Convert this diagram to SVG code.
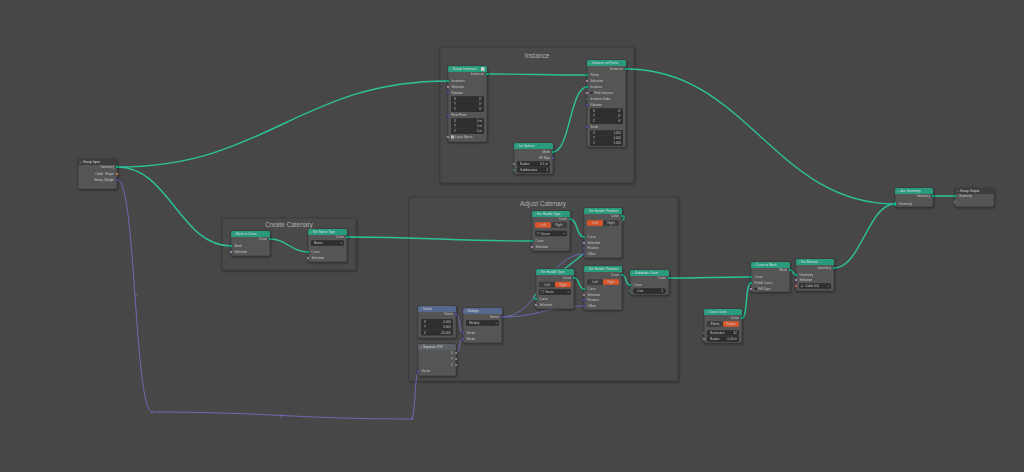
<svg xmlns="http://www.w3.org/2000/svg" width="1024" height="472" viewBox="0 0 1024 472">
<defs>
<filter id="sh" x="-20%" y="-20%" width="140%" height="140%"><feDropShadow dx="0.6" dy="0.9" stdDeviation="0.8" flood-color="#000" flood-opacity="0.45"/></filter>
<style>
.bg{fill:#474747}
.frame{fill:#4a4a4a;stroke:#3b3b3b;stroke-width:0.8}
.ft{font-family:"Liberation Sans",Arial,sans-serif;font-size:6.5px;fill:#aeaeae;text-anchor:middle}
.body{fill:#555555;stroke:#2c2c2c;stroke-width:0.5}
.hg{fill:#2a9a7c}.hv{fill:#56678d}.hc{fill:#5b5e66}.hi{fill:#3e3e3e}
.t{font-family:"Liberation Sans",Arial,sans-serif;font-size:3.1px;fill:#c4c4c4}
.ht{font-size:3.2px;fill:#dedede}
.r{text-anchor:end}.c{text-anchor:middle}
.box{fill:#2d2d2d}.sep{stroke:#454545;stroke-width:0.3}
.btn{fill:#3a3a3a}.on{fill:#d9542c}
.sk{stroke:#1e1e1e;stroke-width:0.4}
.geo{fill:#00d6a3}.vec{fill:#6363c7}.bool{fill:#cca6d6}.flt{fill:#a1a1a1}.int{fill:#598c5c}.obj{fill:#ed9e5c}.mat{fill:#eb7582}
.chev{fill:none;stroke:#d0d0d0;stroke-width:0.4}
.lk{fill:none;stroke-width:1.4;stroke-linecap:round}
.lg{stroke:#2cc39a}.lv{stroke:#6d6dbd;stroke-width:0.9}
</style>
</defs>
<rect class="bg" x="0" y="0" width="1024" height="472"/>

<g id="frames">
<g id="frame-instance"><rect class="frame" filter="url(#sh)" x="440" y="47" width="194" height="136" rx="1"/><text class="ft" x="537" y="58">Instance</text></g>
<g id="frame-create-catenary"><rect class="frame" filter="url(#sh)" x="222" y="218" width="134" height="52" rx="1"/><text class="ft" x="289" y="227">Create Catenary</text></g>
<g id="frame-adjust-catenary"><rect class="frame" filter="url(#sh)" x="409" y="197" width="269" height="184" rx="1"/><text class="ft" x="543" y="206">Adjust Catenary</text></g>
</g>

<g id="connectors">
<path class="lk lg" d="M118,167 C266,167 300,81 448,81"/>
<path class="lk lg" d="M118,167 C169,167 180,246 231,246"/>
<path class="lk lg" d="M487,74 C532,74 542,75 587,75"/>
<path class="lk lg" d="M553,152 C570,152 570,87 587,87"/>
<path class="lk lg" d="M626,69 C747,69 774,204 895,204"/>
<path class="lk lg" d="M270,239 C287,239 291,252 308,252"/>
<path class="lk lg" d="M347,237 C430,237 449,241 532,241"/>
<path class="lk lg" d="M570,219 C578,219 576,237 584,237"/>
<path class="lk lg" d="M622,216 C642,216 516,299 536,299"/>
<path class="lk lg" d="M574,278 C580,278 578,289 584,289"/>
<path class="lk lg" d="M622,275 C627,275 625,285 630,285"/>
<path class="lk lg" d="M669,278 C706,278 714,277 751,277"/>
<path class="lk lg" d="M742,318 C748,318 745,283 751,283"/>
<path class="lk lg" d="M790,270 C794,270 792,275 796,275"/>
<path class="lk lg" d="M834,268 C861,268 868,204 895,204"/>
<path class="lk lg" d="M933,196 L955,196"/>
<path class="lk lv" d="M456,314 C461,314 458,333 463,333"/>
<path class="lk lv" d="M456,353 C461,353 458,339 463,339"/>
<path class="lk lv" d="M502,317 C539,317 547,254 584,254"/>
<path class="lk lv" d="M502,317 C539,317 547,306 584,306"/>
<path class="lk lv" d="M118,180 C136,180 134,412 152,412"/>
<path class="lk lv" d="M152,412 C269,412 295,419 412,419"/>
<path class="lk lv" d="M412,419 C415,419 415,371 418,371"/>
<path class="lk lv" d="M134.6,295.2 L135.8,296.8 L137,295.2"/>
<path class="lk lv" d="M280.4,414.6 L281.9,415.9 L280.4,417.2"/>
<circle class="vec" cx="152" cy="412" r="1.1"/>
<circle class="vec" cx="412" cy="419" r="1.1"/>
</g>

<g id="node-group-input" filter="url(#sh)">
<rect class="body" x="78" y="159" width="39" height="30" rx="1.5"/>
<rect class="hi" x="78" y="159" width="39" height="6" rx="1.5"/><rect class="hi" x="78" y="162" width="39" height="3"/>
<path class="chev" d="M80,161.6 l1,1 l1,-1"/><text class="t ht" x="83" y="163.3">Group Input</text>
<text class="t r" x="114" y="168.1">Geometry</text><circle class="sk geo" cx="117" cy="167" r="1.3"/>
<text class="t r" x="114" y="175.1">Cable_Shape</text><circle class="sk obj" cx="117" cy="174" r="1.3"/>
<text class="t r" x="114" y="181.1">Vertex_Weight</text><circle class="sk vec" cx="117" cy="180" r="1.3"/>
</g>

<g id="node-rotate-instances" filter="url(#sh)">
<rect class="body" x="448" y="66" width="39" height="76" rx="1.5"/>
<rect class="hg" x="448" y="66" width="39" height="6" rx="1.5"/><rect class="hg" x="448" y="69" width="39" height="3"/>
<path class="chev" d="M450,68.6 l1,1 l1,-1"/><text class="t ht" x="453" y="70.3">Rotate Instances</text>
<rect x="481" y="67.2" width="3.6" height="3.6" rx="0.4" fill="#d0d0d0"/>
<text class="t r" x="484" y="75.1">Instances</text><circle class="sk geo" cx="487" cy="74" r="1.3"/>
<text class="t" x="451.5" y="82.1">Instances</text><circle class="sk geo" cx="448" cy="81" r="1.3"/>
<text class="t" x="451.5" y="88.1">Selection</text><circle class="sk bool" cx="448" cy="87" r="1.3"/>
<text class="t" x="451.5" y="94.1">Rotation</text><circle class="sk vec" cx="448" cy="93" r="1.3"/>
<rect class="box" x="451" y="96.3" width="33" height="15.6" rx="1.2"/>
<line class="sep" x1="451" y1="101.5" x2="484" y2="101.5"/><line class="sep" x1="451" y1="106.7" x2="484" y2="106.7"/>
<text class="t" x="454" y="100">X</text><text class="t r" x="482" y="100">0°</text>
<text class="t" x="454" y="105.2">Y</text><text class="t r" x="482" y="105.2">0°</text>
<text class="t" x="454" y="110.4">Z</text><text class="t r" x="482" y="110.4">0°</text>
<text class="t" x="451.5" y="116.1">Pivot Point</text><circle class="sk vec" cx="448" cy="115" r="1.3"/>
<rect class="box" x="451" y="118.3" width="33" height="15.6" rx="1.2"/>
<line class="sep" x1="451" y1="123.5" x2="484" y2="123.5"/><line class="sep" x1="451" y1="128.7" x2="484" y2="128.7"/>
<text class="t" x="454" y="122">X</text><text class="t r" x="482" y="122">0 m</text>
<text class="t" x="454" y="127.2">Y</text><text class="t r" x="482" y="127.2">0 m</text>
<text class="t" x="454" y="132.4">Z</text><text class="t r" x="482" y="132.4">0 m</text>
<circle class="sk bool" cx="448" cy="137" r="1.3"/>
<rect x="451" y="135.4" width="3.2" height="3.2" rx="0.4" fill="#d0d0d0"/><path d="M451.7,137 l0.8,0.8 l1.4,-1.6" fill="none" stroke="#303030" stroke-width="0.45"/>
<text class="t" x="455.5" y="138.1">Local Space</text>
</g>

<g id="node-instance-on-points" filter="url(#sh)">
<rect class="body" x="587" y="60" width="39" height="87" rx="1.5"/>
<rect class="hg" x="587" y="60" width="39" height="6" rx="1.5"/><rect class="hg" x="587" y="63" width="39" height="3"/>
<path class="chev" d="M589,62.6 l1,1 l1,-1"/><text class="t ht" x="592" y="64.3">Instance on Points</text>
<text class="t r" x="623" y="70.1">Instances</text><circle class="sk geo" cx="626" cy="69" r="1.3"/>
<text class="t" x="590.5" y="76.1">Points</text><circle class="sk geo" cx="587" cy="75" r="1.3"/>
<text class="t" x="590.5" y="82.1">Selection</text><circle class="sk bool" cx="587" cy="81" r="1.3"/>
<text class="t" x="590.5" y="88.1">Instance</text><circle class="sk geo" cx="587" cy="87" r="1.3"/>
<circle class="sk bool" cx="587" cy="93" r="1.3"/>
<rect x="590" y="91.4" width="3.2" height="3.2" rx="0.4" fill="#2d2d2d" stroke="#8a8a8a" stroke-width="0.3"/>
<text class="t" x="594.5" y="94.1">Pick Instance</text>
<text class="t" x="590.5" y="100.1">Instance Index</text><circle class="sk int" cx="587" cy="99" r="1.3"/>
<text class="t" x="590.5" y="106.1">Rotation</text><circle class="sk vec" cx="587" cy="105" r="1.3"/>
<rect class="box" x="590" y="108.3" width="33" height="15.6" rx="1.2"/>
<line class="sep" x1="590" y1="113.5" x2="623" y2="113.5"/><line class="sep" x1="590" y1="118.7" x2="623" y2="118.7"/>
<text class="t" x="593" y="112">X</text><text class="t r" x="621" y="112">0°</text>
<text class="t" x="593" y="117.2">Y</text><text class="t r" x="621" y="117.2">0°</text>
<text class="t" x="593" y="122.4">Z</text><text class="t r" x="621" y="122.4">0°</text>
<text class="t" x="590.5" y="128.1">Scale</text><circle class="sk vec" cx="587" cy="127" r="1.3"/>
<rect class="box" x="590" y="130.3" width="33" height="15.6" rx="1.2"/>
<line class="sep" x1="590" y1="135.5" x2="623" y2="135.5"/><line class="sep" x1="590" y1="140.7" x2="623" y2="140.7"/>
<text class="t" x="593" y="134">X</text><text class="t r" x="621" y="134">1.000</text>
<text class="t" x="593" y="139.2">Y</text><text class="t r" x="621" y="139.2">1.000</text>
<text class="t" x="593" y="144.4">Z</text><text class="t r" x="621" y="144.4">1.000</text>
</g>

<g id="node-ico-sphere" filter="url(#sh)">
<rect class="body" x="514" y="143" width="39" height="31" rx="1.5"/>
<rect class="hg" x="514" y="143" width="39" height="6" rx="1.5"/><rect class="hg" x="514" y="146" width="39" height="3"/>
<path class="chev" d="M516,145.6 l1,1 l1,-1"/><text class="t ht" x="519" y="147.3">Ico Sphere</text>
<text class="t r" x="550" y="153.1">Mesh</text><circle class="sk geo" cx="553" cy="152" r="1.3"/>
<text class="t r" x="550" y="159.1">UV Map</text><circle class="sk vec" cx="553" cy="158" r="1.3"/>
<rect class="box" x="517" y="161.3" width="33" height="5.4" rx="1.2"/>
<text class="t" x="520" y="165.1">Radius</text><text class="t r" x="548" y="165.1">0.1 m</text><circle class="sk flt" cx="514" cy="164" r="1.3"/>
<rect class="box" x="517" y="167.3" width="33" height="5.4" rx="1.2"/>
<text class="t" x="520" y="171.1">Subdivisions</text><text class="t r" x="548" y="171.1">1</text><circle class="sk int" cx="514" cy="170" r="1.3"/>
</g>

<g id="node-mesh-to-curve" filter="url(#sh)">
<rect class="body" x="231" y="231" width="39" height="25" rx="1.5"/>
<rect class="hg" x="231" y="231" width="39" height="6" rx="1.5"/><rect class="hg" x="231" y="234" width="39" height="3"/>
<path class="chev" d="M233,233.6 l1,1 l1,-1"/><text class="t ht" x="236" y="235.3">Mesh to Curve</text>
<text class="t r" x="267" y="240.1">Curve</text><circle class="sk geo" cx="270" cy="239" r="1.3"/>
<text class="t" x="234.5" y="247.1">Mesh</text><circle class="sk geo" cx="231" cy="246" r="1.3"/>
<text class="t" x="234.5" y="253.1">Selection</text><circle class="sk bool" cx="231" cy="252" r="1.3"/>
</g>

<g id="node-set-spline-type" filter="url(#sh)">
<rect class="body" x="308" y="229" width="39" height="33" rx="1.5"/>
<rect class="hg" x="308" y="229" width="39" height="6" rx="1.5"/><rect class="hg" x="308" y="232" width="39" height="3"/>
<path class="chev" d="M310,231.6 l1,1 l1,-1"/><text class="t ht" x="313" y="233.3">Set Spline Type</text>
<text class="t r" x="344" y="238.1">Curve</text><circle class="sk geo" cx="347" cy="237" r="1.3"/>
<rect class="box" x="311" y="240.3" width="33" height="5.4" rx="1.2"/>
<text class="t" x="314" y="244.1">Bezier</text><path class="chev" d="M340.5,242.5 l1,1 l1,-1"/>
<text class="t" x="311.5" y="253.1">Curve</text><circle class="sk geo" cx="308" cy="252" r="1.3"/>
<text class="t" x="311.5" y="259.1">Selection</text><circle class="sk bool" cx="308" cy="258" r="1.3"/>
</g>

<g id="node-set-handle-type-left" filter="url(#sh)">
<rect class="body" x="532" y="211" width="38" height="40" rx="1.5"/>
<rect class="hg" x="532" y="211" width="38" height="6" rx="1.5"/><rect class="hg" x="532" y="214" width="38" height="3"/>
<path class="chev" d="M534,213.6 l1,1 l1,-1"/><text class="t ht" x="537" y="215.3">Set Handle Type</text>
<text class="t r" x="567" y="220.1">Curve</text><circle class="sk geo" cx="570" cy="219" r="1.3"/>
<rect class="on" x="535" y="222.3" width="16" height="5.4" rx="1"/><rect class="btn" x="551" y="222.3" width="16" height="5.4" rx="1"/>
<text class="t c" x="543" y="226.1">Left</text><text class="t c" x="559" y="226.1">Right</text>
<rect class="box" x="535" y="230.8" width="32" height="5.4" rx="1.2"/>
<rect x="537" y="232.2" width="2.4" height="2.4" fill="none" stroke="#aaa" stroke-width="0.3"/>
<text class="t" x="541" y="234.6">Vector</text><path class="chev" d="M563.5,233 l1,1 l1,-1"/>
<text class="t" x="535.5" y="242.1">Curve</text><circle class="sk geo" cx="532" cy="241" r="1.3"/>
<text class="t" x="535.5" y="248.1">Selection</text><circle class="sk bool" cx="532" cy="247" r="1.3"/>
</g>

<g id="node-set-handle-positions-left" filter="url(#sh)">
<rect class="body" x="584" y="208" width="38" height="50" rx="1.5"/>
<rect class="hg" x="584" y="208" width="38" height="6" rx="1.5"/><rect class="hg" x="584" y="211" width="38" height="3"/>
<path class="chev" d="M586,210.6 l1,1 l1,-1"/><text class="t ht" x="589" y="212.3">Set Handle Positions</text>
<text class="t r" x="619" y="217.1">Curve</text><circle class="sk geo" cx="622" cy="216" r="1.3"/>
<rect class="on" x="587" y="220.3" width="16" height="5.4" rx="1"/><rect class="btn" x="603" y="220.3" width="16" height="5.4" rx="1"/>
<text class="t c" x="595" y="224.1">Left</text><text class="t c" x="611" y="224.1">Right</text>
<text class="t" x="587.5" y="238.1">Curve</text><circle class="sk geo" cx="584" cy="237" r="1.3"/>
<text class="t" x="587.5" y="244.1">Selection</text><circle class="sk bool" cx="584" cy="243" r="1.3"/>
<text class="t" x="587.5" y="249.1">Position</text><circle class="sk vec" cx="584" cy="248" r="1.3"/>
<text class="t" x="587.5" y="255.1">Offset</text><circle class="sk vec" cx="584" cy="254" r="1.3"/>
</g>

<g id="node-set-handle-type-right" filter="url(#sh)">
<rect class="body" x="536" y="269" width="38" height="40" rx="1.5"/>
<rect class="hg" x="536" y="269" width="38" height="6" rx="1.5"/><rect class="hg" x="536" y="272" width="38" height="3"/>
<path class="chev" d="M538,271.6 l1,1 l1,-1"/><text class="t ht" x="541" y="273.3">Set Handle Type</text>
<text class="t r" x="571" y="279.1">Curve</text><circle class="sk geo" cx="574" cy="278" r="1.3"/>
<rect class="btn" x="539" y="281.8" width="16" height="5.4" rx="1"/><rect class="on" x="555" y="281.8" width="16" height="5.4" rx="1"/>
<text class="t c" x="547" y="285.6">Left</text><text class="t c" x="563" y="285.6">Right</text>
<rect class="box" x="539" y="289.3" width="32" height="5.4" rx="1.2"/>
<rect x="541" y="290.7" width="2.4" height="2.4" fill="none" stroke="#aaa" stroke-width="0.3"/>
<text class="t" x="545" y="293.1">Vector</text><path class="chev" d="M567.5,291.5 l1,1 l1,-1"/>
<text class="t" x="539.5" y="300.1">Curve</text><circle class="sk geo" cx="536" cy="299" r="1.3"/>
<text class="t" x="539.5" y="306.1">Selection</text><circle class="sk bool" cx="536" cy="305" r="1.3"/>
</g>

<g id="node-set-handle-positions-right" filter="url(#sh)">
<rect class="body" x="584" y="266" width="38" height="44" rx="1.5"/>
<rect class="hg" x="584" y="266" width="38" height="6" rx="1.5"/><rect class="hg" x="584" y="269" width="38" height="3"/>
<path class="chev" d="M586,268.6 l1,1 l1,-1"/><text class="t ht" x="589" y="270.3">Set Handle Positions</text>
<text class="t r" x="619" y="276.1">Curve</text><circle class="sk geo" cx="622" cy="275" r="1.3"/>
<rect class="btn" x="587" y="279.3" width="16" height="5.4" rx="1"/><rect class="on" x="603" y="279.3" width="16" height="5.4" rx="1"/>
<text class="t c" x="595" y="283.1">Left</text><text class="t c" x="611" y="283.1">Right</text>
<text class="t" x="587.5" y="290.1">Curve</text><circle class="sk geo" cx="584" cy="289" r="1.3"/>
<text class="t" x="587.5" y="296.1">Selection</text><circle class="sk bool" cx="584" cy="295" r="1.3"/>
<text class="t" x="587.5" y="301.1">Position</text><circle class="sk vec" cx="584" cy="300" r="1.3"/>
<text class="t" x="587.5" y="307.1">Offset</text><circle class="sk vec" cx="584" cy="306" r="1.3"/>
</g>

<g id="node-subdivide-curve" filter="url(#sh)">
<rect class="body" x="630" y="270" width="39" height="25" rx="1.5"/>
<rect class="hg" x="630" y="270" width="39" height="6" rx="1.5"/><rect class="hg" x="630" y="273" width="39" height="3"/>
<path class="chev" d="M632,272.6 l1,1 l1,-1"/><text class="t ht" x="635" y="274.3">Subdivide Curve</text>
<text class="t r" x="666" y="279.1">Curve</text><circle class="sk geo" cx="669" cy="278" r="1.3"/>
<text class="t" x="633.5" y="286.1">Curve</text><circle class="sk geo" cx="630" cy="285" r="1.3"/>
<rect class="box" x="633" y="288.3" width="33" height="5.4" rx="2.7"/>
<text class="t" x="637" y="292.1">Cuts</text><text class="t r" x="663" y="292.1">1</text><circle class="sk int" cx="630" cy="291" r="1.3"/>
</g>

<g id="node-vector" filter="url(#sh)">
<rect class="body" x="418" y="306" width="38" height="32" rx="1.5"/>
<rect class="hv" x="418" y="306" width="38" height="6" rx="1.5"/><rect class="hv" x="418" y="309" width="38" height="3"/>
<path class="chev" d="M420,308.6 l1,1 l1,-1"/><text class="t ht" x="423" y="310.3">Vector</text>
<text class="t r" x="453" y="315.1">Vector</text><circle class="sk vec" cx="456" cy="314" r="1.3"/>
<rect class="box" x="421" y="319" width="32" height="16.5" rx="1.2"/>
<line class="sep" x1="421" y1="324.5" x2="453" y2="324.5"/><line class="sep" x1="421" y1="330" x2="453" y2="330"/>
<text class="t" x="424" y="322.9">X</text><text class="t r" x="451" y="322.9">0.000</text>
<text class="t" x="424" y="328.4">Y</text><text class="t r" x="451" y="328.4">0.000</text>
<text class="t" x="424" y="333.9">Z</text><text class="t r" x="451" y="333.9">-10.000</text>
</g>

<g id="node-multiply" filter="url(#sh)">
<rect class="body" x="463" y="308" width="39" height="35" rx="1.5"/>
<rect class="hv" x="463" y="308" width="39" height="6" rx="1.5"/><rect class="hv" x="463" y="311" width="39" height="3"/>
<path class="chev" d="M465,310.6 l1,1 l1,-1"/><text class="t ht" x="468" y="312.3">Multiply</text>
<text class="t r" x="499" y="318.1">Vector</text><circle class="sk vec" cx="502" cy="317" r="1.3"/>
<rect class="box" x="466" y="320.3" width="33" height="5.4" rx="1.2"/>
<text class="t" x="469" y="324.1">Multiply</text><path class="chev" d="M495.5,322.5 l1,1 l1,-1"/>
<text class="t" x="466.5" y="334.1">Vector</text><circle class="sk vec" cx="463" cy="333" r="1.3"/>
<text class="t" x="466.5" y="340.1">Vector</text><circle class="sk vec" cx="463" cy="339" r="1.3"/>
</g>

<g id="node-separate-xyz" filter="url(#sh)">
<rect class="body" x="418" y="344" width="38" height="32" rx="1.5"/>
<rect class="hc" x="418" y="344" width="38" height="6" rx="1.5"/><rect class="hc" x="418" y="347" width="38" height="3"/>
<path class="chev" d="M420,346.6 l1,1 l1,-1"/><text class="t ht" x="423" y="348.3">Separate XYZ</text>
<text class="t r" x="453" y="354.1">X</text><circle class="sk flt" cx="456" cy="353" r="1.3"/>
<text class="t r" x="453" y="360.1">Y</text><circle class="sk flt" cx="456" cy="359" r="1.3"/>
<text class="t r" x="453" y="366.1">Z</text><circle class="sk flt" cx="456" cy="365" r="1.3"/>
<text class="t" x="421.5" y="372.1">Vector</text><circle class="sk vec" cx="418" cy="371" r="1.3"/>
</g>

<g id="node-curve-to-mesh" filter="url(#sh)">
<rect class="body" x="751" y="262" width="39" height="30" rx="1.5"/>
<rect class="hg" x="751" y="262" width="39" height="6" rx="1.5"/><rect class="hg" x="751" y="265" width="39" height="3"/>
<path class="chev" d="M753,264.6 l1,1 l1,-1"/><text class="t ht" x="756" y="266.3">Curve to Mesh</text>
<text class="t r" x="787" y="271.1">Mesh</text><circle class="sk geo" cx="790" cy="270" r="1.3"/>
<text class="t" x="754.5" y="278.1">Curve</text><circle class="sk geo" cx="751" cy="277" r="1.3"/>
<text class="t" x="754.5" y="284.1">Profile Curve</text><circle class="sk geo" cx="751" cy="283" r="1.3"/>
<circle class="sk bool" cx="751" cy="289" r="1.3"/>
<rect x="754" y="287.4" width="3.2" height="3.2" rx="0.4" fill="#2d2d2d" stroke="#8a8a8a" stroke-width="0.3"/>
<text class="t" x="758.5" y="290.1">Fill Caps</text>
</g>

<g id="node-set-material" filter="url(#sh)">
<rect class="body" x="796" y="259" width="38" height="32" rx="1.5"/>
<rect class="hg" x="796" y="259" width="38" height="6" rx="1.5"/><rect class="hg" x="796" y="262" width="38" height="3"/>
<path class="chev" d="M798,261.6 l1,1 l1,-1"/><text class="t ht" x="801" y="263.3">Set Material</text>
<text class="t r" x="831" y="269.1">Geometry</text><circle class="sk geo" cx="834" cy="268" r="1.3"/>
<text class="t" x="799.5" y="276.1">Geometry</text><circle class="sk geo" cx="796" cy="275" r="1.3"/>
<text class="t" x="799.5" y="281.1">Selection</text><circle class="sk bool" cx="796" cy="280" r="1.3"/>
<rect class="box" x="799" y="283.3" width="32" height="5.4" rx="1.2"/>
<circle cx="802" cy="286" r="1.2" fill="none" stroke="#bbb" stroke-width="0.35"/>
<text class="t" x="805" y="287.1">Cable.001</text><path class="chev" d="M827.5,285.5 l1,1 l1,-1"/>
<circle class="sk mat" cx="796" cy="286" r="1.3"/>
</g>

<g id="node-curve-circle" filter="url(#sh)">
<rect class="body" x="704" y="309" width="38" height="34" rx="1.5"/>
<rect class="hg" x="704" y="309" width="38" height="6" rx="1.5"/><rect class="hg" x="704" y="312" width="38" height="3"/>
<path class="chev" d="M706,311.6 l1,1 l1,-1"/><text class="t ht" x="709" y="313.3">Curve Circle</text>
<text class="t r" x="739" y="319.1">Curve</text><circle class="sk geo" cx="742" cy="318" r="1.3"/>
<rect class="btn" x="707" y="321.3" width="16" height="5.4" rx="1"/><rect class="on" x="723" y="321.3" width="16" height="5.4" rx="1"/>
<text class="t c" x="715" y="325.1">Points</text><text class="t c" x="731" y="325.1">Radius</text>
<rect class="box" x="707" y="330.3" width="32" height="5.4" rx="1.2"/>
<text class="t" x="710" y="334.1">Resolution</text><text class="t r" x="737" y="334.1">32</text><circle class="sk int" cx="704" cy="333" r="1.3"/>
<rect class="box" x="707" y="336.3" width="32" height="5.4" rx="1.2"/>
<text class="t" x="710" y="340.1">Radius</text><text class="t r" x="737" y="340.1">0.03 m</text><circle class="sk flt" cx="704" cy="339" r="1.3"/>
</g>

<g id="node-join-geometry" filter="url(#sh)">
<rect class="body" x="895" y="188" width="38" height="19" rx="1.5"/>
<rect class="hg" x="895" y="188" width="38" height="6" rx="1.5"/><rect class="hg" x="895" y="191" width="38" height="3"/>
<path class="chev" d="M897,190.6 l1,1 l1,-1"/><text class="t ht" x="900" y="192.3">Join Geometry</text>
<text class="t r" x="930" y="197.1">Geometry</text><circle class="sk geo" cx="933" cy="196" r="1.3"/>
<text class="t" x="898.5" y="205.1">Geometry</text><rect class="sk geo" x="893.8" y="201.8" width="2.4" height="4.4" rx="1.2"/>
</g>

<g id="node-group-output" filter="url(#sh)">
<rect class="body" x="955" y="188" width="39" height="19" rx="1.5"/>
<rect class="hi" x="955" y="188" width="39" height="6" rx="1.5"/><rect class="hi" x="955" y="191" width="39" height="3"/>
<path class="chev" d="M957,190.6 l1,1 l1,-1"/><text class="t ht" x="960" y="192.3">Group Output</text>
<text class="t" x="958.5" y="197.1">Geometry</text><circle class="sk geo" cx="955" cy="196" r="1.3"/>
<circle cx="955" cy="202" r="1.1" fill="#555" stroke="#9a9a9a" stroke-width="0.35"/>
</g>
</svg>
